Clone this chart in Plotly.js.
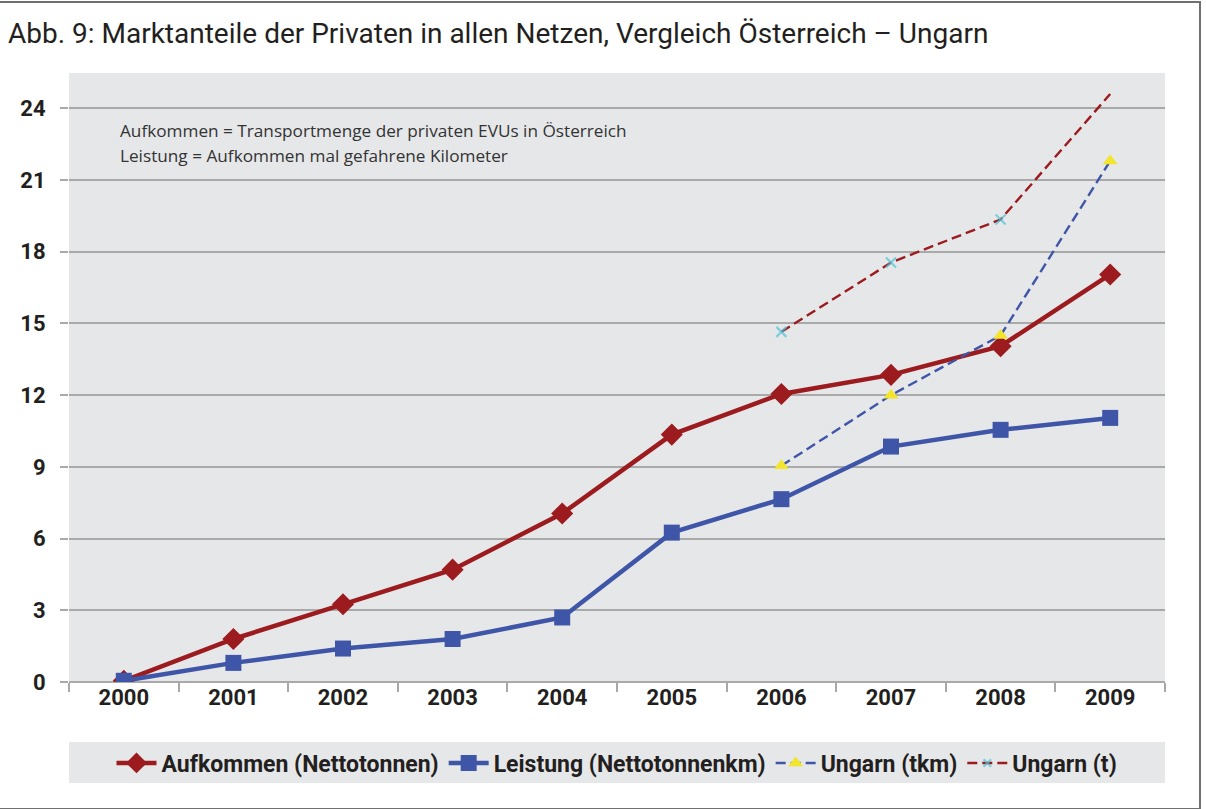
<!DOCTYPE html>
<html>
<head>
<meta charset="utf-8">
<script src="https://cdn.plot.ly/plotly-3.0.1.min.js"></script>
<style>
  body { margin: 0; background: #fff; }
  #chart { width: 1206px; height: 809px; }
  #frame { position: absolute; left: 0; top: 1px; width: 1199px; height: 805px;
           border: 2px solid #707070; border-left: none; pointer-events: none; }
</style>
</head>
<body>
<div id="chart"></div>
<div id="frame"></div>
<script>
// Jahre und Werte (Marktanteile in %)
var jahre = ['2000', '2001', '2002', '2003', '2004', '2005', '2006', '2007', '2008', '2009'];
var aufkommen = [0.05, 1.8, 3.25, 4.7, 7.05, 10.35, 12.05, 12.85, 14.05, 17.05];
var leistung = [0.05, 0.8, 1.4, 1.8, 2.7, 6.25, 7.65, 9.85, 10.55, 11.05];
var jahreUngarn = ['2006', '2007', '2008', '2009'];
var ungarnTkm = [9.05, 12.0, 14.5, 21.8];
var ungarnT = [14.65, 17.55, 19.35, 24.6];
var yTicks = [0, 3, 6, 9, 12, 15, 18, 21, 24];

var dunkelrot = '#9B1B1F';
var blau = '#3F56A8';
var textFarbe = '#231F20';
var grau = '#E6E7E9';

var traceAufkommen = {
    x: jahre, y: aufkommen, type: 'scatter', mode: 'lines+markers',
    name: 'Aufkommen (Nettotonnen)',
    line: {color: dunkelrot, width: 4.5},
    marker: {symbol: 'diamond', size: 17, color: dunkelrot}
};

var traceLeistung = {
    x: jahre, y: leistung, type: 'scatter', mode: 'lines+markers',
    name: 'Leistung (Nettotonnenkm)',
    line: {color: blau, width: 4.5},
    marker: {symbol: 'square', size: 16, color: blau}
};

var traceTkm = {
    x: jahreUngarn, y: ungarnTkm, type: 'scatter', mode: 'lines+markers',
    name: 'Ungarn (tkm)',
    line: {color: blau, width: 2.4, dash: '10px,5px'},
    marker: {symbol: 'triangle-up', size: 13, color: '#F2E52B'}
};

var traceT = {
    x: jahreUngarn, y: ungarnT, type: 'scatter', mode: 'lines+markers',
    name: 'Ungarn (t)',
    line: {color: dunkelrot, width: 2.4, dash: '10px,5px'},
    marker: {symbol: 'x-thin', size: [10, 10, 10, 0], color: '#4EC5D9', line: {color: '#4EC5D9', width: 2.2}}
};

var data = [traceAufkommen, traceLeistung, traceTkm, traceT];

var layout = {
    width: 1206,
    height: 809,
    margin: {l: 69, r: 41, t: 73, b: 127},
    paper_bgcolor: '#ffffff',
    plot_bgcolor: grau,
    font: {family: 'Roboto, sans-serif', color: textFarbe},
    title: {
        text: 'Abb. 9: Marktanteile der Privaten in allen Netzen, Vergleich Österreich – Ungarn',
        font: {size: 28, color: textFarbe},
        x: 8 / 1206, xref: 'container', xanchor: 'left',
        y: 1 - 33 / 809, yref: 'container', yanchor: 'middle'
    },
    xaxis: {
        type: 'category',
        range: [-0.5, 9.5],
        showgrid: false,
        zeroline: false,
        showline: false,
        ticks: 'outside',
        tickson: 'boundaries',
        ticklen: 9,
        tickcolor: '#A8A8A8',
        tickwidth: 1.5,
        tickfont: {size: 22, weight: 700, color: textFarbe}
    },
    yaxis: {
        range: [0, 25.48],
        tickvals: yTicks,
        ticktext: yTicks.map(String),
        showgrid: true,
        gridcolor: '#A9A9A9',
        gridwidth: 1.5,
        zeroline: true,
        zerolinecolor: '#A9A9A9',
        zerolinewidth: 1.5,
        ticks: 'outside',
        ticklen: 8,
        tickcolor: '#A9A9A9',
        tickwidth: 1.5,
        ticklabelstandoff: 10,
        tickfont: {size: 22, weight: 700, color: textFarbe}
    },
    showlegend: true,
    legend: {
        orientation: 'h',
        x: 0.5, xanchor: 'center',
        y: -0.133, yanchor: 'middle',
        bgcolor: 'rgba(0,0,0,0)',
        font: {size: 23, weight: 700, color: textFarbe},
        itemwidth: 40,
        traceorder: 'normal'
    },
    shapes: [{
        type: 'rect', xref: 'paper', yref: 'paper',
        x0: 0, x1: 1, y0: -0.0985, y1: -0.166,
        fillcolor: grau, line: {width: 0}, layer: 'below'
    }],
    annotations: [{
        text: 'Aufkommen = Transportmenge der privaten EVUs in Österreich',
        xref: 'paper', yref: 'paper', x: 0.0447, y: 0.905,
        xanchor: 'left', yanchor: 'middle', showarrow: false,
        font: {family: 'Open Sans, sans-serif', size: 17.2, color: '#333333'}
    }, {
        text: 'Leistung = Aufkommen mal gefahrene Kilometer',
        xref: 'paper', yref: 'paper', x: 0.0447, y: 0.864,
        xanchor: 'left', yanchor: 'middle', showarrow: false,
        font: {family: 'Open Sans, sans-serif', size: 17.2, color: '#333333'}
    }]
};

Plotly.newPlot('chart', data, layout, {displayModeBar: false});
</script>
</body>
</html>
